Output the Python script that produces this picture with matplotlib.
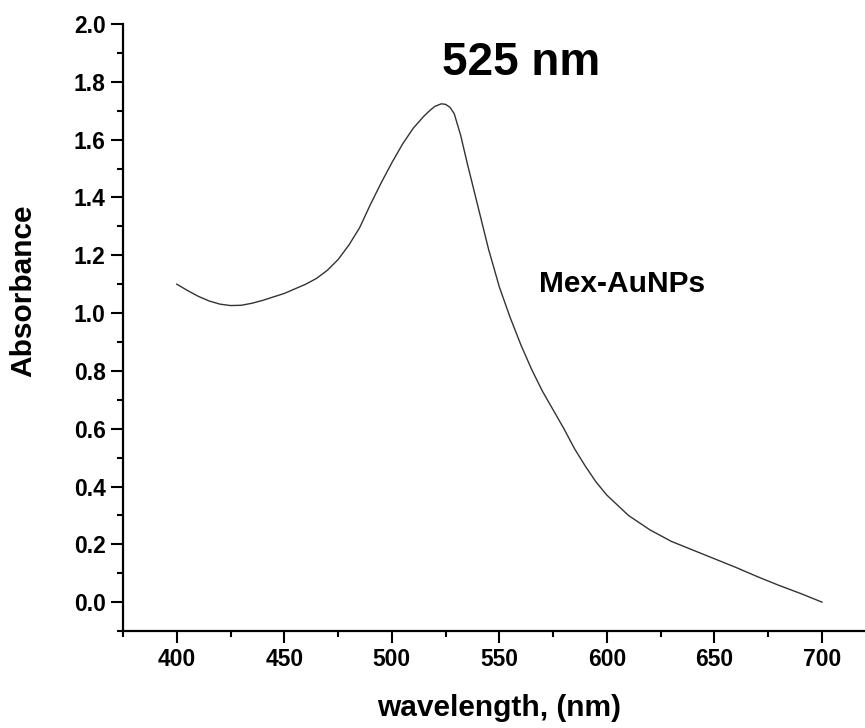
import matplotlib.pyplot as plt
import numpy as np
from matplotlib.ticker import MultipleLocator

# UV-Vis spectrum
wavelength = [400, 405, 410, 415, 420, 425, 430, 435, 440, 450, 460, 465, 470,
              475, 480, 485, 490, 495, 500, 505, 510, 515, 518, 520, 523, 525,
              527, 529, 532, 535, 540, 545, 550, 555, 560, 565, 570, 575, 580,
              585, 590, 595, 600, 610, 620, 630, 640, 650, 660, 670, 680, 690,
              700]
absorbance = [1.10, 1.078, 1.058, 1.042, 1.031, 1.026, 1.027, 1.034, 1.044,
              1.068, 1.10, 1.12, 1.148, 1.185, 1.235, 1.295, 1.375, 1.45, 1.52,
              1.585, 1.64, 1.682, 1.703, 1.715, 1.724, 1.722, 1.712, 1.69,
              1.615, 1.52, 1.37, 1.22, 1.09, 0.985, 0.89, 0.805, 0.73, 0.665,
              0.60, 0.53, 0.47, 0.415, 0.37, 0.30, 0.25, 0.21, 0.18, 0.15, 0.12,
              0.088, 0.058, 0.03, 0.0]

peak_label = "525 nm"
sample_label = "Mex-AuNPs"

plt.rcParams['font.family'] = ['Liberation Sans', 'DejaVu Sans']
plt.rcParams['font.weight'] = 'bold'

fig = plt.figure(figsize=(8.65, 7.28), dpi=100)
ax = fig.add_axes([0.1422, 0.1332, 0.8578, 0.8338])

ax.plot(wavelength, absorbance, color='#333333', lw=1.0)

ax.set_xlim(375, 720)
ax.set_ylim(-0.1, 2.0)
ax.xaxis.set_major_locator(MultipleLocator(50))
ax.xaxis.set_minor_locator(MultipleLocator(25))
ax.yaxis.set_major_locator(MultipleLocator(0.2))
ax.yaxis.set_minor_locator(MultipleLocator(0.1))
ax.yaxis.set_major_formatter(plt.FormatStrFormatter('%.1f'))

for side in ['top', 'right']:
    ax.spines[side].set_visible(False)
for side in ['left', 'bottom']:
    ax.spines[side].set_linewidth(1.6)

ax.tick_params(which='major', direction='out', length=8.5, width=1.5,
               labelsize=16.5, pad=4)
ax.tick_params(which='minor', direction='out', length=4.5, width=1.5)
for lbl in ax.get_xticklabels() + ax.get_yticklabels():
    lbl.set_fontweight('bold')

ax.text(560, 1.865, peak_label, fontsize=33, fontweight='bold',
        ha='center', va='center')
ax.text(607, 1.099, sample_label, fontsize=21.5, fontweight='bold',
        ha='center', va='center')

fig.text(499 / 865, 1 - 708 / 728, "wavelength, (nm)", fontsize=21.5,
         fontweight='bold', ha='center', va='center')
fig.text(23 / 865, 1 - 291 / 728, "Absorbance", fontsize=21.5,
         fontweight='bold', ha='center', va='center', rotation=90)

fig.savefig('out.png', dpi=100)
